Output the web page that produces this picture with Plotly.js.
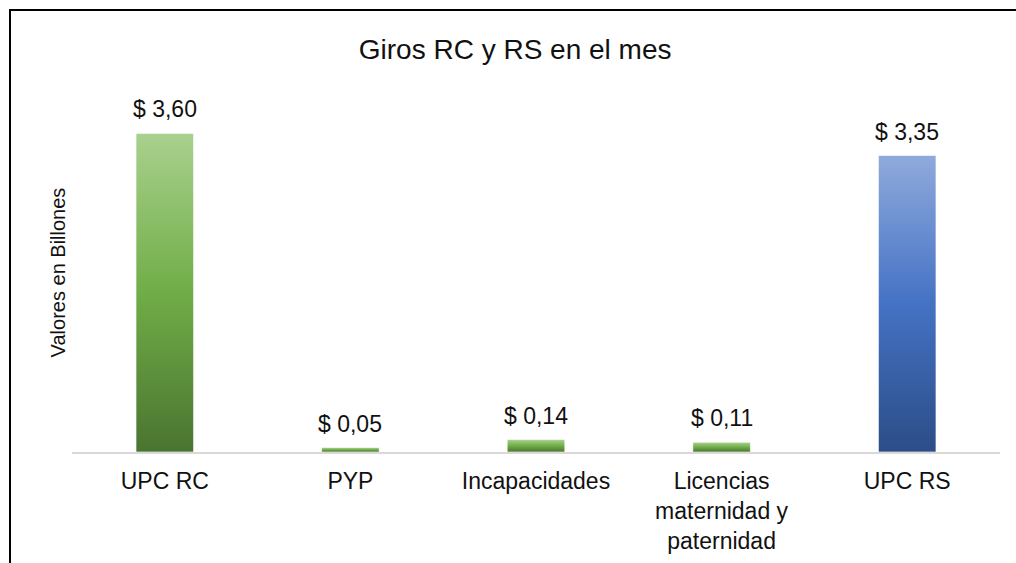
<!DOCTYPE html>
<html>
<head>
<meta charset="utf-8">
<script src="https://cdn.plot.ly/plotly-3.0.1.min.js"></script>
<style>
  html, body { margin: 0; padding: 0; background: #fff; overflow: hidden; }
  #chart { width: 1016px; height: 563px; position: absolute; left: 0; top: 0; }
  #frame { position: absolute; left: 9px; top: 9px; width: 1200px; height: 700px;
           border-top: 2px solid #000; border-left: 2px solid #000; pointer-events: none; }
</style>
</head>
<body>
<div id="chart"></div>
<div id="frame"></div>
<script>
// ---- data ----
const categories = ["UPC RC", "PYP", "Incapacidades", "Licencias<br>maternidad y<br>paternidad", "UPC RS"];
const values = [3.60, 0.05, 0.14, 0.11, 3.35];
const groups = ["green", "green", "green", "green", "blue"];
const chartTitle = "Giros RC y RS en el mes";
const yTitle = "Valores en Billones";

const baseColors = { green: "#70ad47", blue: "#4472c4" };
const fmt = v => "$ " + v.toFixed(2).replace(".", ",");

const font = "Liberation Sans, Arial, sans-serif";

const trace = {
  type: "bar",
  x: categories,
  y: values,
  marker: { color: groups.map(g => baseColors[g]), line: { color: "rgba(255,255,255,0.6)", width: 1 } },
  hoverinfo: "none"
};

const annotations = values.map((v, i) => ({
  x: categories[i], y: v, xref: "x", yref: "y",
  text: fmt(v), showarrow: false, yanchor: "bottom", yshift: 9,
  font: { family: font, size: 23, color: "#111" }
}));
annotations.push({
  xref: "paper", yref: "paper", x: 0, xshift: -14.5, y: 0.506,
  text: yTitle, textangle: -90, showarrow: false, xanchor: "center", yanchor: "middle",
  font: { family: font, size: 20, color: "#111" }
});

const layout = {
  width: 1016, height: 563,
  margin: { l: 72, r: 16, t: 98, b: 111 },
  paper_bgcolor: "#fff", plot_bgcolor: "#fff",
  showlegend: false,
  bargap: 0.69,
  title: {
    text: chartTitle, xref: "container", yref: "container",
    x: 0.507, y: 1 - 49 / 563, xanchor: "center", yanchor: "middle",
    font: { family: font, size: 28, color: "#111" }
  },
  xaxis: {
    showline: true, linecolor: "#d9d9d9", linewidth: 1.5,
    ticks: "", showgrid: false, zeroline: false, ticklabelstandoff: 8,
    tickfont: { family: font, size: 23, color: "#111" }
  },
  yaxis: {
    range: [0, 4], showticklabels: false, showgrid: false, zeroline: false, showline: false, ticks: ""
  },
  annotations: annotations
};

Plotly.newPlot("chart", [trace], layout, { staticPlot: true, displayModeBar: false }).then(gd => {
  const svg = gd.querySelector("svg.main-svg");
  const NS = "http://www.w3.org/2000/svg";
  let defs = svg.querySelector("defs");
  if (!defs) { defs = document.createElementNS(NS, "defs"); svg.insertBefore(defs, svg.firstChild); }
  const grads = {
    green: [["0", "#a9d18e"], ["0.5", "#70ad47"], ["1", "#4a7430"]],
    blue: [["0", "#8faadc"], ["0.5", "#4472c4"], ["1", "#2c4d87"]]
  };
  Object.keys(grads).forEach(k => {
    const lg = document.createElementNS(NS, "linearGradient");
    lg.setAttribute("id", "grad-" + k);
    lg.setAttribute("x1", "0"); lg.setAttribute("y1", "0");
    lg.setAttribute("x2", "0"); lg.setAttribute("y2", "1");
    grads[k].forEach(([o, c]) => {
      const s = document.createElementNS(NS, "stop");
      s.setAttribute("offset", o); s.setAttribute("stop-color", c);
      lg.appendChild(s);
    });
    defs.appendChild(lg);
  });
  const paths = gd.querySelectorAll(".trace.bars .point path");
  paths.forEach((p, i) => { p.style.fill = "url(#grad-" + groups[i] + ")"; });
});
</script>
</body>
</html>
